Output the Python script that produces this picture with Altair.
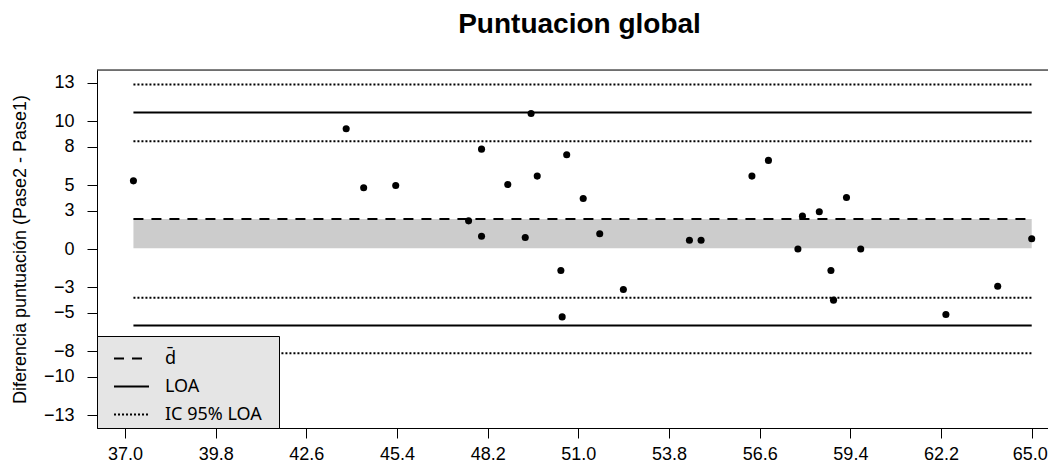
import altair as alt
import pandas as pd

# ---- data ----
media = [37.26, 43.83, 44.37, 45.36, 47.61, 48.01, 48.01, 48.82, 49.36, 49.54,
         49.73, 50.46, 50.50, 50.64, 51.15, 51.66, 52.39, 54.43, 54.79, 56.36,
         56.87, 57.78, 57.92, 58.44, 58.80, 58.88, 59.28, 59.72, 62.35, 63.95, 65.0]
diferencia = [5.33, 9.40, 4.79, 4.97, 2.20, 7.81, 1.00, 5.05, 0.90, 10.60,
              5.70, -1.68, -5.31, 7.37, 3.95, 1.19, -3.17, 0.69, 0.69, 5.70,
              6.93, 0.00, 2.57, 2.91, -1.68, -4.00, 4.03, 0.00, -5.12, -2.91, 0.80]

x_ticks = [37.0, 39.8, 42.6, 45.4, 48.2, 51.0, 53.8, 56.6, 59.4, 62.2, 65.0]
y_ticks = [-13, -10, -8, -5, -3, 0, 3, 5, 8, 10, 13]

legend_labels = ["d\u0304", "LOA", "IC 95% LOA"]
ref_kind = ["d\u0304", "LOA", "LOA", "IC 95% LOA", "IC 95% LOA", "IC 95% LOA", "IC 95% LOA"]
ref_values = [2.34, 10.68, -5.99, 12.87, 8.42, -3.82, -8.16]
band_low = [0.05]
band_high = [2.34]

# ---- layout ----
X_DOMAIN = [36.135, 65.503]
Y_DOMAIN = [-14, 14]
W, H = 951, 358
FONT = "Liberation Sans"

pts = pd.DataFrame({"media": media, "dif": diferencia})
x0, x1 = min(media), max(media)
lines = pd.DataFrame({"y": ref_values, "kind": ref_kind,
                      "x": [x0] * len(ref_values), "x2": [x1] * len(ref_values)})
band = pd.DataFrame({"x": [x0], "x2": [x1], "y": band_low, "y2": band_high})
one = pd.DataFrame({"k": [0]})

xs = alt.Scale(domain=X_DOMAIN, nice=False, zero=False)
ys = alt.Scale(domain=Y_DOMAIN, nice=False, zero=False)

x_axis = alt.Axis(values=x_ticks, format=".1f", title=None, grid=False,
                  tickSize=10, tickColor="black", domainColor="black",
                  labelColor="black", labelFont=FONT, labelFontSize=18,
                  labelPadding=7, labelFlush=False, labelOverlap=False,
                  labelOffset={"condition": {"test": "datum.value >= 64.9", "value": -2},
                               "value": 0})
y_axis = alt.Axis(values=y_ticks, format="d", title="Diferencia puntuación (Pase2 - Pase1)",
                  grid=False, tickSize=10, tickColor="black", domainColor="black",
                  labelColor="black", labelFont=FONT, labelFontSize=18,
                  labelPadding=13, labelFlush=False, labelOverlap=False,
                  titleFont=FONT, titleFontSize=18, titleFontWeight="normal",
                  titleColor="black", titleX=-77, titleY=H / 2,
                  titleBaseline="middle", titleAlign="center", titleAngle=270)

band_layer = alt.Chart(band).mark_rect(color="#cccccc").encode(
    x=alt.X("x:Q", scale=xs, axis=x_axis),
    x2="x2:Q",
    y=alt.Y("y:Q", scale=ys, axis=y_axis),
    y2="y2:Q",
)

leg = alt.Legend(title=None, orient="bottom-left", offset=0,
                 fillColor="#e5e5e5", strokeColor="black", padding=4,
                 symbolType="stroke", symbolSize=1225, symbolStrokeColor="black",
                 symbolOffset=12, labelFont="Noto Sans", labelFontSize=18,
                 labelColor="black", labelOffset=15, rowPadding=-14,
                 cornerRadius=0,
                 labelExpr="datum.label + '\u2800'")

line_layer = alt.Chart(lines).mark_rule(color="black").encode(
    x=alt.X("x:Q", scale=xs, axis=x_axis),
    x2="x2:Q",
    y=alt.Y("y:Q", scale=ys, axis=y_axis),
    strokeDash=alt.StrokeDash("kind:N", sort=legend_labels,
                              scale=alt.Scale(domain=legend_labels,
                                              range=[[10, 8], [1, 0], [2, 2]]),
                              legend=leg),
    strokeWidth=alt.StrokeWidth("kind:N", sort=legend_labels,
                                scale=alt.Scale(domain=legend_labels, range=[2, 2, 1]),
                                legend=leg),
)

point_layer = alt.Chart(pts).mark_circle(color="black", opacity=1, size=50).encode(
    x=alt.X("media:Q", scale=xs, axis=x_axis),
    y=alt.Y("dif:Q", scale=ys, axis=y_axis),
)

top_border = alt.Chart(one).mark_rule(color="black", strokeWidth=1).encode(
    y=alt.Y(datum=Y_DOMAIN[1], scale=ys, axis=y_axis),
    x=alt.value(0),
    x2=alt.value(W),
)

chart = alt.layer(band_layer, line_layer, point_layer, top_border).properties(
    width=W, height=H,
    title=alt.Title("Puntuacion global", font=FONT, fontSize=28, fontWeight="bold",
                    color="black", anchor="middle", offset=31, dx=7),
    autosize=alt.AutoSizeParams(type="none"),
    padding={"left": 89, "top": 62, "right": 0, "bottom": 36},
).configure_view(stroke=None).configure(background="white")

chart.save("out.html", embed_options={"renderer": "svg", "actions": False})
